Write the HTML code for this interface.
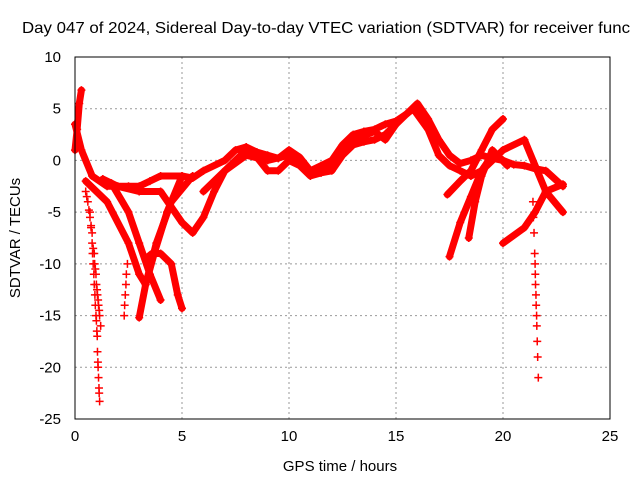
<!DOCTYPE html>
<html><head><meta charset="utf-8"><style>
body{margin:0;background:#fff;}
svg{display:block;font-family:"Liberation Sans",sans-serif;}
</style></head><body>
<svg id="chart" width="640" height="480">
<text x="22" y="33" font-size="16" textLength="608" lengthAdjust="spacingAndGlyphs" fill="#000">Day 047 of 2024, Sidereal Day-to-day VTEC variation (SDTVAR) for receiver func</text>
<text x="340" y="471" font-size="15" text-anchor="middle">GPS time / hours</text>
<text transform="translate(20,238) rotate(-90)" font-size="15" text-anchor="middle">SDTVAR / TECUs</text>
<g id="grid"></g><g id="marks"></g><g id="axes"></g>
</svg>
<script>
const xTicks=[0,5,10,15,20,25];
const yTicks=[10,5,0,-5,-10,-15,-20,-25];
// thick dense traces: hours / SDTVAR values
const t1x=[0,0.3,0.8,1.5,2.5,3,3.5,4,5,5.5,6,7,7.5,8,8.5,9,9.5,10,10.5,11,11.5,12,12.5,13,13.5,14,14.5,15,15.5,16,16.5,17,17.5,18,18.5,19,19.5,20,20.5,21,21.5,22,22.8];
const t1y=[3.5,1,-1.5,-2.5,-2.5,-2.5,-2,-1.5,-1.5,-1.7,-1,0,1,1.3,0.8,0.5,0.2,1,0.3,-1,-0.5,0,1.5,2.5,2.8,3,3.5,3.8,4.5,5.5,4,2,0.5,-0.3,0,0.5,0.2,0,-0.4,-0.5,-0.8,-1,-2.5];
const t2x=[1.3,2,3,4,5,5.5,6,6.5,7,7.5,8,8.5,9,9.5,10,10.5,11,11.5,12,12.5,13,13.5,14,14.5,15,15.5,15.8,16.5,17,17.5,18,18.5,19,19.5,20,21,22,22.8];
const t2y=[-1.8,-2.5,-3,-3,-6,-7,-5.5,-3,-1,0,1,0.3,-1,-1,0,-0.5,-1.5,-1.2,-1,0.5,1.5,1.8,2,2.5,3.5,4.5,5,3,0.5,-0.5,-1,-1.5,-1,0,1,2,-3,-5];
const t2bx=[6,7,8,9,10,11,12,12.5,13,14,14.5,15];
const t2by=[-3,-1,0.5,0,0.5,-1,-0.5,1,2,2.8,2,3.5];
const t3x=[0.5,1.5,2.5,3,3.3,3.7,4.3,5];
const t3y=[-2,-4,-8,-11,-12,-9,-5,-1.5];
const t4x=[1.7,2.5,3,3.5,4];
const t4y=[-2.2,-5,-8,-11,-13.5];
const t5x=[3.3,3.6,4,4.5,4.8,5];
const t5y=[-9.5,-9,-9,-10,-13,-14.3];
const t6x=[3,3.3,3.8,4.5,5.5];
const t6y=[-15.2,-12,-8,-4,-1.5];
const t7x=[17.5,18,18.5,19,19.5,20];
const t7y=[-9.3,-6,-3.5,-1,0.5,0];
const t8x=[18.4,18.7,19,19.5,20.2];
const t8y=[-7.5,-4,-1.5,1,-0.5];
const t9x=[17.4,18,18.5,19,19.5,20];
const t9y=[-3.3,-2,-1,1,3,4];
const t10x=[20,21,21.5,22,22.8];
const t10y=[-8,-6.5,-5,-3,-2.3];
const t11x=[0,0.1,0.2,0.3];
const t11y=[1,3,5.5,6.8];
// sparse marker dives
const d1x=[0.5,0.55,0.6,0.65,0.7,0.75,0.8,0.85,0.9,0.92,0.95,0.98,1,1.03,1.05,1.08,1.1,1.13,1.15,1.2];
const d1y=[-3,-3.5,-4,-4.8,-5.5,-6.3,-7,-8.5,-9,-10,-10.5,-11,-12,-12.5,-13,-13.5,-14,-14.5,-15,-16];
const d2x=[0.7,0.75,0.8,0.82,0.85,0.88,0.9,0.93,0.95,0.98,1,1.02,1.04,1.05,1.07,1.08,1.1,1.12,1.13,1.15];
const d2y=[-5,-6.5,-8,-9,-10,-11,-12,-13,-14,-15,-15.5,-16.5,-17,-18.5,-19.5,-20,-21,-22,-22.5,-23.3];
const d3x=[2.3,2.32,2.35,2.38,2.4,2.45];
const d3y=[-15,-14,-13,-12,-11,-10];
const d4x=[21.4,21.42,21.45,21.48,21.5,21.51,21.52,21.54,21.55,21.57,21.58,21.6,21.62,21.65];
const d4y=[-4,-5.5,-7,-9,-10,-11,-12,-13,-14,-15,-16,-17.5,-19,-21];
const thick=[[t1x,t1y],[t2x,t2y],[t2bx,t2by],[t3x,t3y],[t4x,t4y],[t5x,t5y],[t6x,t6y],[t7x,t7y],[t8x,t8y],[t9x,t9y],[t10x,t10y],[t11x,t11y]];
const sparse=[[d1x,d1y],[d2x,d2y],[d3x,d3y],[d4x,d4y]];
const X=h=>75+h*(535/25);
const Y=v=>57+(10-v)*(362/35);
const NS='http://www.w3.org/2000/svg';
const grid=document.getElementById('grid'),marks=document.getElementById('marks'),axes=document.getElementById('axes');
function mk(tag,attrs,parent){const e=document.createElementNS(NS,tag);for(const k in attrs)e.setAttribute(k,attrs[k]);parent.appendChild(e);return e;}
xTicks.forEach(t=>{
  if(t>0&&t<25){const g=mk('line',{x1:X(t),x2:X(t),y1:57,y2:419,stroke:'#999','stroke-dasharray':'2,3'},grid);
  
  }
  const l=mk('text',{x:X(t),y:441,'font-size':15,'text-anchor':'middle'},axes);l.textContent=t;
  
  
});
yTicks.forEach(t=>{
  if(t>-25&&t<10){const g=mk('line',{x1:75,x2:610,y1:Y(t),y2:Y(t),stroke:'#999','stroke-dasharray':'2,3'},grid);
  
  }
  const l=mk('text',{x:61,y:Y(t)+5,'font-size':15,'text-anchor':'end'},axes);l.textContent=t;
  
  
});
const fr=mk('rect',{x:75,y:57,width:535,height:362,fill:'none',stroke:'#000','stroke-width':1},axes);


thick.forEach(([xs,ys])=>{
  const p=mk('polyline',{points:xs.map((x,i)=>X(x)+','+Y(ys[i])).join(' '),fill:'none',stroke:'#f00','stroke-width':7,'stroke-linejoin':'round','stroke-linecap':'round'},marks);
  
  
});
function plus(x,y){const p=mk('path',{d:`M${X(x)-4},${Y(y)}h8M${X(x)},${Y(y)-4}v8`,stroke:'#f00','stroke-width':1.5},marks);
  
  }
thick.forEach(([xs,ys])=>xs.forEach((x,i)=>plus(x,ys[i])));
sparse.forEach(([xs,ys])=>xs.forEach((x,i)=>plus(x,ys[i])));
</script>
</body></html>
